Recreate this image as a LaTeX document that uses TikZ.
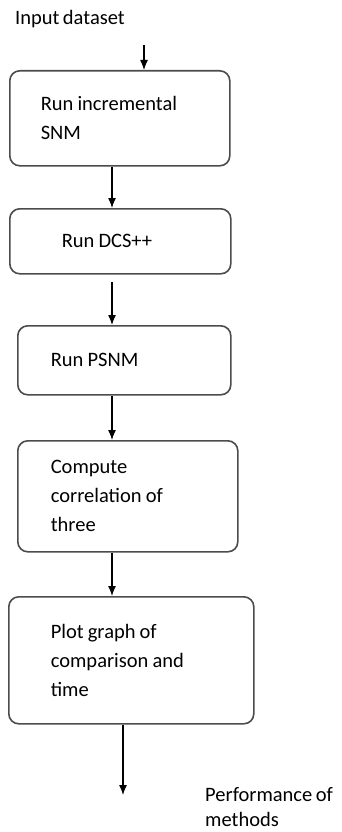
\documentclass[tikz,border=0pt]{standalone}
\usepackage{fontspec}
\setmainfont{Carlito}
\usepackage{tikz}
\usetikzlibrary{arrows.meta}
\usetikzlibrary{positioning}

\begin{document}
\begin{tikzpicture}[x=1pt,y=-1pt]
  \tikzstyle{proc}=[rectangle, rounded corners=10pt, draw=black!70, line width=1.6pt, anchor=north west, align=left, inner ysep=0pt, font=\fontsize{20.5}{29}\selectfont, execute at begin node={\spaceskip=0.2em\relax}]
  \tikzstyle{connect}=[-{Latex[length=10pt,width=8pt]}, line width=1.3pt]
  \tikzstyle{txt}=[inner sep=0pt, anchor=base west, align=left, font=\fontsize{20.5}{25}\selectfont, execute at begin node={\spaceskip=0.17em\relax}]
  \useasboundingbox (0,0) rectangle (342,832);
    \node[txt] (input) at (15,25) {Input dataset};
    \node[proc, inner xsep=31pt, text width=158pt, minimum height=95pt] (incr) at (9,70) {Run incremental\\SNM};
    \node[proc, inner xsep=52pt, text width=117pt, minimum height=65pt] (dcs) at (9,208) {Run DCS++};
    \node[proc, inner xsep=33pt, text width=147pt, minimum height=69pt] (psnm) at (17,325) {Run PSNM};
    \node[proc, inner xsep=33pt, text width=154pt, minimum height=111pt] (corr) at (17,440) {Compute\\correlation of\\three};
    \node[proc, inner xsep=42pt, text width=161pt, minimum height=127pt] (plot) at (8,596) {Plot graph of\\comparison and\\time};
    \node[txt] (perf) at (205,826) {Performance of\\methods};
    \coordinate (in) at (144,45);
    \coordinate (a) at (112,0);
    \coordinate (a3) at (112,282);
    \coordinate (out) at (123,795);
    \path (in) edge [connect] (in |- incr.north)
          (incr.south -| a) edge [connect] (dcs.north -| a)
          (a3) edge [connect] (psnm.north -| a)
          (psnm.south -| a) edge [connect] (corr.north -| a)
          (corr.south -| a) edge [connect] (plot.north -| a)
          (out |- plot.south) edge [connect] (out);
  \end{tikzpicture}
\end{document}
